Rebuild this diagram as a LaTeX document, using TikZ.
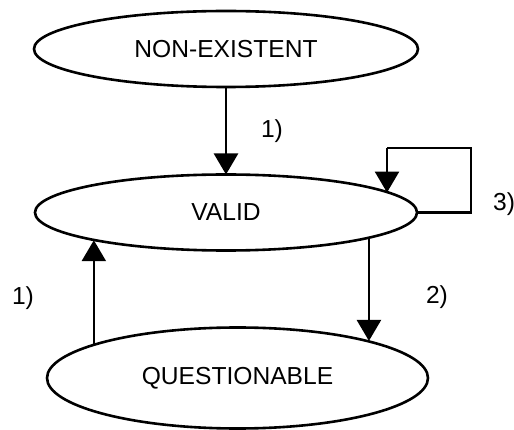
\documentclass[tikz,border=0pt]{standalone}
\usepackage{fontspec}
\setmainfont{Liberation Sans}
\usetikzlibrary{arrows.meta,shapes.geometric}
\tikzset{
  state/.style={draw, ellipse, line width=2.6pt, inner sep=0pt, outer sep=0pt,
    font=\fontsize{24.6}{28}\selectfont},
  lbl/.style={font=\fontsize{24.6}{28}\selectfont, inner sep=0pt},
  conn/.style={line width=2.6pt, -{Triangle[width=24pt,length=21pt]}},
  loopline/.style={line width=2.6pt}
}
\begin{document}
\begin{tikzpicture}[x=1pt,y=-1pt]
\useasboundingbox (0,0) rectangle (514,430);
\node[state, minimum width=384pt, minimum height=76pt] (ne) at (226,49) {NON-EXISTENT};
\node[state, minimum width=382pt, minimum height=76pt] (valid) at (226,212.5) {VALID};
\node[state, minimum width=381pt, minimum height=101pt] (q) at (237.5,378) {QUESTIONABLE};

% 1) NON-EXISTENT -> VALID
\draw[conn] (ne) -- (valid);
\node[lbl] (l1a) at (272,131) {1)};

% 3) self loop on VALID
\coordinate (c1) at (471,212.5);
\coordinate (c2) at (471,148);
\coordinate (c3) at (387,148);
\draw[loopline] (valid.east) -- (c1) -- (c2) -- (c3);
\draw[conn] (c3) -- (c3 |- valid.7.4);
\node[lbl, anchor=west] (l3) at (493,204) {3)};

% 2) VALID -> QUESTIONABLE
\draw[conn] (valid.-10.7) -- (valid.-10.7 |- q.16.3);
\node[lbl] (l2) at (437,297) {2)};

% 1) QUESTIONABLE -> VALID
\draw[conn] (q.167.1) -- (q.167.1 |- valid.-168.1);
\node[lbl] (l1b) at (23,298) {1)};
\end{tikzpicture}
\end{document}
